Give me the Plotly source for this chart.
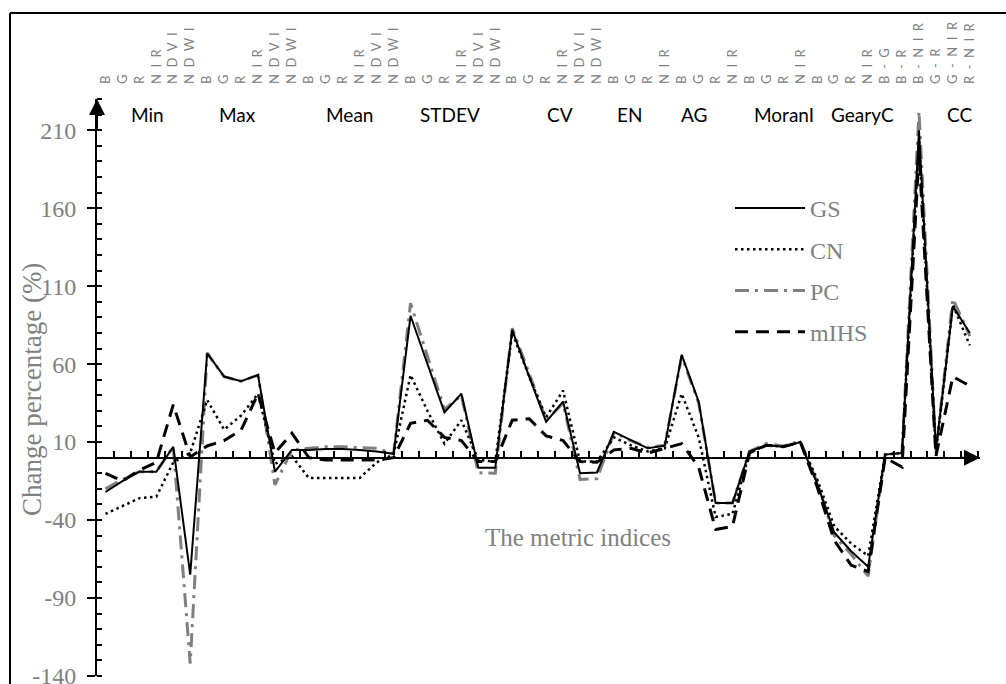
import plotly.graph_objects as go

# ---- data ----
group_names = ["Min", "Max", "Mean", "STDEV", "CV", "EN", "AG", "MoranI", "GearyC", "CC"]
group_label_x = [2.5, 7.8, 14.4, 20.35, 26.8, 30.9, 34.7, 40.05, 44.65, 50.4]

tick_labels = [
    "B", "G", "R", "NIR", "NDVI", "NDWI",
    "B", "G", "R", "NIR", "NDVI", "NDWI",
    "B", "G", "R", "NIR", "NDVI", "NDWI",
    "B", "G", "R", "NIR", "NDVI", "NDWI",
    "B", "G", "R", "NIR", "NDVI", "NDWI",
    "B", "G", "R", "NIR",
    "B", "G", "R", "NIR",
    "B", "G", "R", "NIR",
    "B", "G", "R", "NIR",
    "B-G", "B-R", "B-NIR", "G-R", "G-NIR", "R-NIR",
]

y_tick_values = [-140, -90, -40, 10, 60, 110, 160, 210]

gs = [-22, -15, -9, -9, 7, -75,
      67, 52, 49, 53, -9, 5,
      5, 5.5, 5.5, 5, 4, 2.5,
      91, 60, 29, 41, -6.5, -6.5,
      82, 52, 23, 36, -10, -9.5,
      16.6, 11.3, 6, 7.7,
      66, 36, -29, -29,
      4, 8, 7, 10,
      -17, -48, -60, -70,
      2, 3, 210, 5, 97, 80]

cn = [-36, -31, -26, -25, -3, 3,
      37, 18, 27, 41, -4, 1,
      -13, -13, -13, -13, -3, 2,
      53, 30, 9, 24, -1.5, -2.5,
      80, 52, 26, 43, -2.5, -2.5,
      13, 8, 4, 6,
      41, 13, -38, -36,
      3, 8, 7, 10,
      -14, -44, -55, -63,
      2, 3, 203, 3, 98, 72]

pc = [-20, -14, -9, -9, 7, -132,
      67, 52, 49, 53, -17.5, 5,
      6, 7, 7, 6.5, 6, 2.5,
      99, 65, 31, 40, -9.7, -10,
      83, 54, 24, 35, -14, -13.5,
      16, 11, 6.5, 8,
      65, 35, -29, -29,
      4, 9, 7.5, 10.5,
      -16, -50, -62, -76,
      2, 3, 222, 4, 102, 78]

mihs = [-10, -15, -8, -3, 34, 0.5,
        7.5, 11, 17.7, 41, 3, 15.7,
        0, -1.5, -1.5, -1.5, -1.5, 0,
        22, 24, 13, 11, -2.5, -2.5,
        24, 25, 14, 11, -2.5, -3,
        5, 6, 3, 6,
        9, -6, -46, -44,
        3, 8, 7, 10,
        -19, -53, -69, -73,
        0, -6, 195, 1, 52, 46]

x = list(range(len(tick_labels)))
spaced_labels = ["\u2002".join(lbl) for lbl in tick_labels]

Y_MIN, Y_MAX = -140, 230
X_MIN, X_MAX = -0.5, 51.6

fig = go.Figure()
fig.add_trace(go.Scatter(x=x, y=pc, name="PC", mode="lines", legendrank=3, legendgroup="pc",
                         line=dict(color="#7f7f7f", width=3, dash="14px,6px,3px,6px")))
fig.add_trace(go.Scatter(x=x, y=gs, name="GS", mode="lines", legendrank=1, legendgroup="gs",
                         line=dict(color="black", width=2)))
fig.add_trace(go.Scatter(x=x, y=cn, name="CN", mode="lines", legendrank=2, legendgroup="cn",
                         line=dict(color="black", width=2.5, dash="2.5px,3.5px")))
fig.add_trace(go.Scatter(x=x, y=mihs, name="mIHS", mode="lines", legendrank=4, legendgroup="mihs",
                         line=dict(color="black", width=3, dash="13px,8px")))
# carrier for the top category axis
fig.add_trace(go.Scatter(x=x, y=[None] * len(x), xaxis="x2", mode="lines",
                         showlegend=False, hoverinfo="skip"))

serif = "Liberation Serif"
gray = "#808080"

L, R, T, B = 97, 26, 99, 8
W, H = 1006, 684
pw, ph = W - L - R, H - T - B

def px_to_paper_x(px):
    return (px - L) / pw

def px_to_paper_y(py):
    return (H - B - py) / ph

annotations = []
for name, gx in zip(group_names, group_label_x):
    annotations.append(dict(x=gx, y=220, xref="x", yref="y", text=name, showarrow=False,
                            font=dict(family="Lato", size=19, color="black")))
annotations.append(dict(x=27.9, y=-51, xref="x", yref="y", text="The metric indices",
                        showarrow=False, font=dict(family=serif, size=25, color=gray)))
# y axis title
annotations.append(dict(x=px_to_paper_x(32), y=px_to_paper_y(390), xref="paper", yref="paper",
                        text="Change percentage (%)", textangle=-90, showarrow=False,
                        xanchor="center", yanchor="middle",
                        font=dict(family=serif, size=27, color=gray)))
# axis arrows
annotations.append(dict(x=X_MIN, y=Y_MAX, ax=X_MIN, ay=Y_MAX - 20, xref="x", yref="y",
                        axref="x", ayref="y", text="", showarrow=True, arrowhead=2,
                        arrowsize=1.6, arrowwidth=2, arrowcolor="black"))
annotations.append(dict(x=X_MAX, y=0, ax=X_MAX - 1.2, ay=0, xref="x", yref="y",
                        axref="x", ayref="y", text="", showarrow=True, arrowhead=2,
                        arrowsize=1.6, arrowwidth=2, arrowcolor="black"))

shapes = [
    dict(type="line", xref="paper", yref="paper", x0=px_to_paper_x(10), x1=px_to_paper_x(1010),
         y0=px_to_paper_y(13), y1=px_to_paper_y(13), line=dict(color="black", width=2)),
    dict(type="line", xref="paper", yref="paper", x0=px_to_paper_x(10), x1=px_to_paper_x(10),
         y0=px_to_paper_y(13), y1=px_to_paper_y(690), line=dict(color="black", width=2)),
]

fig.update_layout(
    width=W, height=H,
    margin=dict(l=L, r=R, t=T, b=B, autoexpand=False),
    paper_bgcolor="white", plot_bgcolor="white",
    showlegend=True,
    legend=dict(x=px_to_paper_x(730), y=px_to_paper_y(186), xanchor="left", yanchor="top",
                font=dict(family=serif, size=24, color=gray), tracegroupgap=7,
                itemwidth=70, bgcolor="rgba(0,0,0,0)"),
    xaxis=dict(range=[X_MIN, X_MAX], anchor="free", position=(0 - Y_MIN) / (Y_MAX - Y_MIN),
               showline=True, linecolor="black", linewidth=2, automargin=False,
               ticks="inside", ticklen=6, tickwidth=1.5, tickcolor="black",
               tickvals=[i + 0.5 for i in x], showticklabels=False,
               showgrid=False, zeroline=False),
    xaxis2=dict(range=[X_MIN, X_MAX], overlaying="x", side="top", anchor="y", automargin=False,
                tickvals=x, ticktext=spaced_labels, tickangle=-90,
                showgrid=False, showline=False, ticks="", zeroline=False,
                tickfont=dict(family="Lato", size=13, color=gray), ticklabelstandoff=14),
    yaxis=dict(range=[Y_MIN, Y_MAX], automargin=False,
               tickvals=y_tick_values, ticktext=[str(v) for v in y_tick_values],
               ticks="outside", ticklen=8, tickwidth=1.5, tickcolor="black",
               showline=True, linecolor="black", linewidth=2,
               showgrid=False, zeroline=False, ticklabeloverflow="allow",
               tickfont=dict(family=serif, size=24, color=gray), ticklabelstandoff=6,
               minor=dict(dtick=10, tick0=-140, ticks="inside", ticklen=5, tickwidth=1.5,
                          tickcolor="black", showgrid=False)),
    annotations=annotations,
    shapes=shapes,
)

fig.write_html("out.html", config={"displayModeBar": False},
               post_script="document.body.style.margin='0px';")
